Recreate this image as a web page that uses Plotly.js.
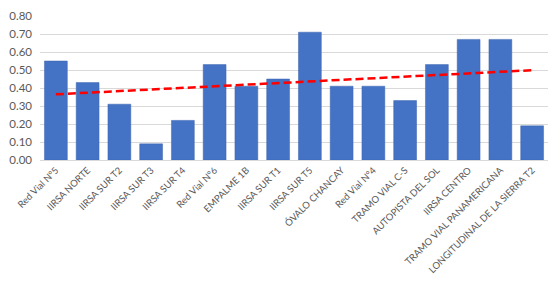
<!DOCTYPE html>
<html>
<head>
<meta charset="utf-8">
<script src="https://cdn.plot.ly/plotly-3.0.1.min.js"></script>
<style>
  html, body { margin: 0; padding: 0; background: #fff; }
  #chart { width: 550px; height: 297px; }
</style>
</head>
<body>
<div id="chart"></div>
<script>
// Values
const projects = [
    'Red Vial N°5', 'IIRSA NORTE', 'IIRSA SUR T2', 'IIRSA SUR T3', 'IIRSA SUR T4',
    'Red Vial N°6', 'EMPALME 1B', 'IIRSA SUR T1', 'IIRSA SUR T5', 'ÓVALO CHANCAY',
    'Red Vial N°4', 'TRAMO VIAL C-S', 'AUTOPISTA DEL SOL', 'IIRSA CENTRO',
    'TRAMO VIAL PANAMERICANA', 'LONGITUDINAL DE LA SIERRA T2'
];
const scores = [0.55, 0.43, 0.31, 0.09, 0.22, 0.53, 0.41, 0.45, 0.71, 0.41, 0.41, 0.33, 0.53, 0.67, 0.67, 0.19];
const yTicks = [0, 0.1, 0.2, 0.3, 0.4, 0.5, 0.6, 0.7, 0.8];

// Linear trendline (least squares), like the spreadsheet one
function linearTrend(values) {
    const n = values.length;
    const xs = values.map((v, i) => i + 1);
    const mx = xs.reduce((a, b) => a + b, 0) / n;
    const my = values.reduce((a, b) => a + b, 0) / n;
    let num = 0, den = 0;
    for (let i = 0; i < n; i++) {
        num += (xs[i] - mx) * (values[i] - my);
        den += (xs[i] - mx) * (xs[i] - mx);
    }
    const slope = num / den;
    return xs.map((x) => my + slope * (x - mx));
}

const TEXT_COLOR = '#595959';
const FONT = 'Lato, "Open Sans", sans-serif';

const bars = {
    x: projects,
    y: scores,
    type: 'bar',
    marker: { color: '#4472C4', line: { color: '#3F66B0', width: 0.5 } },
    hoverinfo: 'x+y'
};

const trend = {
    x: projects,
    y: linearTrend(scores),
    type: 'scatter',
    mode: 'lines',
    line: { color: '#FF0000', width: 2.5, dash: '8px,4px' },
    hoverinfo: 'skip'
};

const layout = {
    width: 550,
    height: 297,
    margin: { l: 40, r: 2, t: 16, b: 137 },
    paper_bgcolor: '#ffffff',
    plot_bgcolor: '#ffffff',
    showlegend: false,
    bargap: 0.28,
    font: { family: FONT, size: 11, color: TEXT_COLOR },
    xaxis: {
        type: 'category',
        tickangle: -45,
        tickfont: { family: FONT, size: 9.5, color: TEXT_COLOR },
        showgrid: false,
        showline: true,
        linecolor: '#D9D9D9',
        linewidth: 1,
        ticks: '',
        automargin: false
    },
    yaxis: {
        range: [0, 0.8],
        tickvals: yTicks,
        tickformat: '.2f',
        tickfont: { family: FONT, size: 11.5, color: TEXT_COLOR },
        showgrid: true,
        gridcolor: '#D9D9D9',
        gridwidth: 1,
        zeroline: false,
        showline: false,
        ticks: '',
        ticklabelstandoff: 7,
        automargin: false
    }
};

Plotly.newPlot('chart', [bars, trend], layout, { staticPlot: true, responsive: false });
</script>
</body>
</html>
